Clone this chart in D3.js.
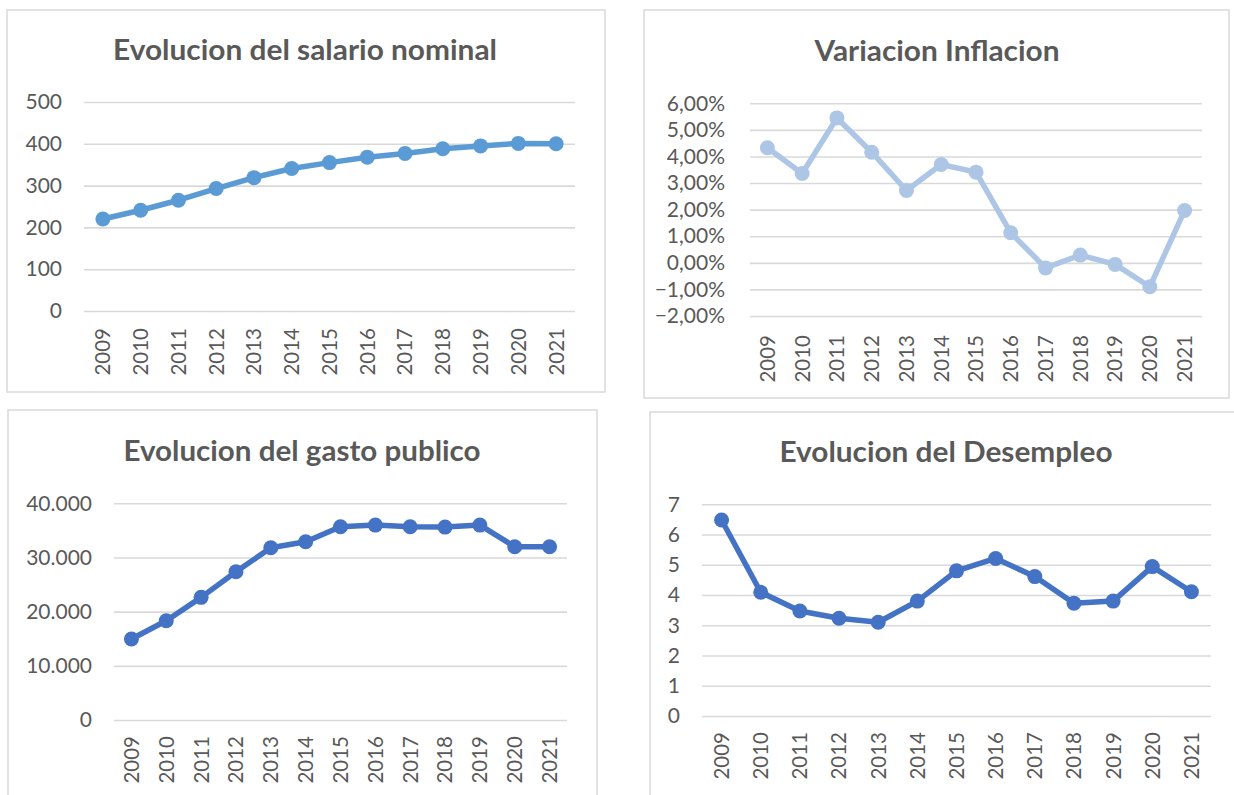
<!DOCTYPE html>
<html>
<head>
<meta charset="utf-8">
<script src="https://cdn.jsdelivr.net/npm/d3@7"></script>
<style>
  html, body { margin: 0; padding: 0; background: #ffffff; }
  svg { display: block; }
</style>
</head>
<body>
<svg id="chart" width="1234" height="795"></svg>
<script>
// ---------------- DATA ----------------
const years = ["2009","2010","2011","2012","2013","2014","2015","2016","2017","2018","2019","2020","2021"];

const salarioTitle = "Evolucion del salario nominal";
const salario = [220, 241, 265, 293, 319, 341, 355, 368, 377, 388, 395, 401, 400];
const salarioTicks = [0, 100, 200, 300, 400, 500];

const inflacionTitle = "Variacion Inflacion";
const inflacion = [4.33, 3.36, 5.45, 4.16, 2.72, 3.70, 3.41, 1.13, -0.19, 0.29, -0.06, -0.90, 1.97];
const inflacionTicks = [-2, -1, 0, 1, 2, 3, 4, 5, 6];

const gastoTitle = "Evolucion del gasto publico";
const gasto = [14950, 18320, 22640, 27360, 31790, 32900, 35670, 35980, 35670, 35610, 35980, 31980, 31980];
const gastoTicks = [0, 10000, 20000, 30000, 40000];

const desempleoTitle = "Evolucion del Desempleo";
const desempleo = [6.48, 4.09, 3.47, 3.23, 3.10, 3.80, 4.80, 5.21, 4.61, 3.73, 3.80, 4.94, 4.11];
const desempleoTicks = [0, 1, 2, 3, 4, 5, 6, 7];

// ---------------- FORMATS ----------------
const es = d3.formatLocale({ decimal: ",", thousands: ".", grouping: [3], currency: ["", "€"] });
const fmtInt = es.format(".0f");
const fmtThousands = es.format(",.0f");
const fmtPct = v => es.format(".2f")(v) + "%";

// ---------------- LAYOUT ----------------
const TEXT = "#595959";
const GRID = "#d9d9d9";
const FONT = "Lato, 'Open Sans', sans-serif";

const charts = [
  { title: salarioTitle, values: salario, ticks: salarioTicks, fmt: fmtInt, color: "#5b9bd5",
    frame: [7, 10, 598, 382], px: [84, 575], py: [311, 102], dom: [0, 500],
    titleX: 305, titleY: 60, titleW: 384, labelGap: 22, yearTop: 328 },
  { title: inflacionTitle, values: inflacion, ticks: inflacionTicks, fmt: fmtPct, color: "#adc6e6",
    frame: [644, 10, 585, 388], px: [750, 1202], py: [316, 103.3], dom: [-2, 6],
    titleX: 937, titleY: 61, titleW: 245, labelGap: 25, yearTop: 335 },
  { title: gastoTitle, values: gasto, ticks: gastoTicks, fmt: fmtThousands, color: "#4472c4",
    frame: [8, 410, 589, 400], px: [114, 567], py: [720, 503.3], dom: [0, 40000],
    titleX: 302, titleY: 461, titleW: 357, labelGap: 22, yearTop: 736 },
  { title: desempleoTitle, values: desempleo, ticks: desempleoTicks, fmt: fmtInt, color: "#4472c4",
    frame: [650, 412, 600, 400], px: [702, 1211], py: [716, 504.3], dom: [0, 7],
    titleX: 946, titleY: 462, titleW: 333, labelGap: 22, yearTop: 732 }
];

const svg = d3.select("#chart");

charts.forEach(c => {
  const g = svg.append("g");

  // frame
  g.append("rect")
    .attr("x", c.frame[0]).attr("y", c.frame[1])
    .attr("width", c.frame[2]).attr("height", c.frame[3])
    .attr("fill", "#ffffff").attr("stroke", GRID).attr("stroke-width", 1.5);

  // title
  g.append("text")
    .attr("x", c.titleX).attr("y", c.titleY)
    .attr("text-anchor", "middle")
    .attr("font-family", FONT).attr("font-weight", "bold").attr("font-size", 29)
    .attr("fill", TEXT)
    .attr("textLength", c.titleW).attr("lengthAdjust", "spacingAndGlyphs")
    .text(c.title);

  const x = d3.scaleBand().domain(years).range(c.px);
  const y = d3.scaleLinear().domain(c.dom).range(c.py);
  const w = c.px[1] - c.px[0];

  // y axis with gridlines
  const ya = g.append("g")
    .attr("transform", `translate(${c.px[0]},0)`)
    .call(d3.axisLeft(y).tickValues(c.ticks).tickSize(-w).tickPadding(c.labelGap).tickFormat(c.fmt));
  ya.select(".domain").remove();
  ya.selectAll(".tick line").attr("stroke", GRID).attr("stroke-width", 1.6);
  ya.selectAll(".tick text")
    .attr("font-family", FONT).attr("font-size", 21).attr("fill", TEXT);

  // x axis (rotated year labels)
  const y0 = c.py[0];
  const xa = g.append("g")
    .attr("transform", `translate(0,${y0})`)
    .call(d3.axisBottom(x).tickSize(0).tickPadding(0));
  xa.select(".domain").remove();
  xa.selectAll(".tick text")
    .attr("font-family", FONT).attr("font-size", 20.5).attr("fill", TEXT)
    .attr("text-anchor", "end")
    .attr("x", 0).attr("y", 0).attr("dy", "0.36em")
    .attr("transform", `translate(0,${c.yearTop - y0}) rotate(-90)`);

  // line
  const line = d3.line()
    .x((d, i) => x(years[i]) + x.bandwidth() / 2)
    .y(d => y(d));
  g.append("path")
    .datum(c.values)
    .attr("d", line)
    .attr("fill", "none")
    .attr("stroke", c.color)
    .attr("stroke-width", 5.5)
    .attr("stroke-linejoin", "round")
    .attr("stroke-linecap", "round");

  // markers
  g.selectAll("circle.pt")
    .data(c.values)
    .join("circle")
    .attr("class", "pt")
    .attr("cx", (d, i) => x(years[i]) + x.bandwidth() / 2)
    .attr("cy", d => y(d))
    .attr("r", 7.5)
    .attr("fill", c.color);
});
</script>
</body>
</html>
